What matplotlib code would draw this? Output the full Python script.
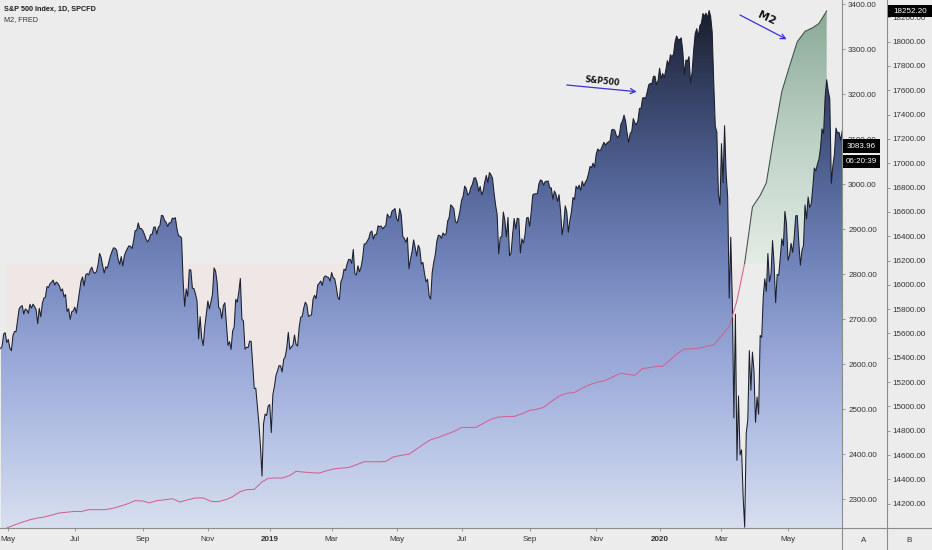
import numpy as np
import pandas as pd
import matplotlib
matplotlib.use("Agg")
import matplotlib.pyplot as plt
from matplotlib.colors import LinearSegmentedColormap
from matplotlib.path import Path
from matplotlib.patches import Rectangle
from matplotlib.lines import Line2D

plt.rcParams["font.family"] = ["Liberation Sans", "DejaVu Sans"]

# S&P 500 daily closes, first bar 2018-04-24
spx_2018 = [
    2634.6, 2639.4, 2666.9, 2669.9, 2648.1,
    2654.8, 2635.7, 2629.7, 2663.4, 2672.6, 2671.9, 2697.8, 2723.1, 2727.7, 2730.1, 2711.5,
    2722.5, 2720.1, 2712.9, 2733.0, 2724.4, 2733.3, 2727.8, 2721.3, 2689.9, 2724.0, 2705.3,
    2734.6, 2746.9, 2748.8, 2772.4, 2770.4, 2779.0, 2782.0, 2786.9, 2775.6, 2782.5, 2779.7,
    2773.9, 2762.6, 2767.3, 2749.8, 2754.9, 2717.1, 2723.1, 2699.6, 2716.3, 2718.4,
    2726.7, 2713.2, 2736.6, 2759.8, 2784.2, 2793.8, 2774.0, 2798.3, 2801.3, 2798.4, 2809.6,
    2815.6, 2804.5, 2801.8, 2806.0, 2820.4, 2846.1, 2837.4, 2818.8, 2802.6, 2816.3,
    2813.4, 2827.2, 2840.4, 2850.4, 2858.5, 2857.7, 2853.6, 2833.3, 2821.9, 2839.1, 2818.4,
    2840.7, 2850.1, 2857.1, 2863.0, 2861.8, 2857.0, 2874.7, 2896.7, 2897.5, 2914.0, 2901.1, 2901.5,
    2896.7, 2888.6, 2878.1, 2871.7, 2877.1, 2887.9, 2888.9, 2904.2, 2905.0, 2888.8, 2904.3,
    2908.0, 2930.8, 2929.7, 2919.4, 2915.6, 2906.0, 2914.0, 2914.0,
    2924.6, 2923.4, 2925.5, 2901.6, 2885.6, 2884.4, 2880.3, 2785.7, 2728.4, 2767.1, 2750.8,
    2809.9, 2809.2, 2768.8, 2767.8, 2755.9, 2740.7, 2656.1, 2705.6, 2658.7, 2641.3, 2682.6, 2711.7,
    2740.4, 2723.1, 2738.3, 2755.5, 2813.9, 2806.8, 2781.0, 2726.2, 2722.2, 2701.6, 2730.2,
    2736.3, 2690.7, 2641.9, 2649.9, 2632.6, 2673.5, 2682.2, 2743.8, 2737.8, 2760.2,
    2790.4, 2700.1, 2696.0, 2633.1, 2637.7, 2636.8, 2651.1, 2650.5, 2600.0, 2545.9, 2546.2,
    2507.0, 2467.4, 2416.6, 2351.1, 2467.7, 2488.8, 2485.7, 2506.9,
]
spx_2019 = [
    2510.0, 2447.9, 2531.9, 2549.7, 2574.4, 2585.0, 2596.6, 2596.3, 2582.6, 2610.3, 2616.1,
    2636.0, 2670.7, 2632.9, 2638.7, 2642.3, 2664.8, 2643.9, 2640.0, 2681.1, 2704.1,
    2706.5, 2724.9, 2737.7, 2731.6, 2706.1, 2707.9, 2709.8, 2744.7, 2753.0, 2745.7, 2775.6,
    2779.8, 2784.7, 2774.9, 2792.7, 2796.1, 2793.9, 2792.4, 2784.5,
    2803.7, 2792.8, 2789.7, 2771.5, 2748.9, 2743.1, 2783.3, 2791.5, 2810.9, 2808.5, 2822.5,
    2832.9, 2832.6, 2824.2, 2854.9, 2800.7, 2798.4, 2818.5, 2805.4, 2815.4, 2834.4,
    2867.2, 2867.2, 2873.4, 2879.4, 2892.7, 2895.8, 2878.2, 2888.2, 2888.3, 2907.4, 2905.6,
    2907.1, 2900.5, 2905.0, 2908.0, 2933.7, 2927.3, 2926.2, 2939.9, 2943.0, 2945.8,
    2923.7, 2917.5, 2945.6, 2932.5, 2884.1, 2879.4, 2870.7, 2881.4, 2811.9, 2834.4, 2851.0,
    2876.3, 2859.5, 2840.2, 2864.4, 2856.3, 2822.2, 2826.1, 2802.4, 2783.0, 2788.9, 2752.1,
    2744.5, 2803.3, 2826.2, 2843.5, 2873.3, 2886.7, 2885.7, 2879.8, 2891.6, 2887.0,
    2889.7, 2917.8, 2926.5, 2954.2, 2950.5, 2945.4, 2917.4, 2913.8, 2924.9, 2941.8,
    2964.3, 2973.0, 2995.8, 2990.4, 2976.0, 2979.6, 2993.1, 2999.9, 3013.8, 3014.3, 3004.0,
    2984.4, 2995.1, 2976.6, 2985.0, 3005.5, 3019.6, 3003.7, 3025.9, 3021.0, 3013.2, 2980.4,
    2953.6, 2932.1, 2844.7, 2881.8, 2884.0, 2938.1, 2918.7, 2883.1, 2926.3, 2840.6, 2847.6,
    2888.7, 2923.7, 2900.5, 2924.4, 2923.0, 2847.1, 2878.4, 2869.2, 2887.9, 2924.6, 2926.5,
    2906.3, 2937.8, 2976.0, 2978.7, 2978.4, 2979.4, 3000.9, 3009.6, 3007.4, 2998.0,
    3005.7, 3006.7, 3006.8, 2992.1, 2991.8, 2966.6, 2984.9, 2977.6, 2961.8, 2976.7,
    2940.3, 2887.6, 2910.6, 2952.0, 2938.8, 2893.1, 2919.4, 2938.1, 2970.3, 2966.2, 2995.7,
    2989.7, 2998.0, 2986.2, 3006.7, 2996.0, 3004.5, 3010.3, 3022.6, 3039.4, 3036.9, 3046.8, 3037.6,
    3066.9, 3078.3, 3074.6, 3076.8, 3085.2, 3093.1, 3087.0, 3091.8, 3094.0, 3096.6,
    3120.5, 3122.0, 3120.2, 3108.5, 3103.5, 3110.3, 3133.6, 3140.5, 3153.6, 3141.0,
    3113.9, 3093.2, 3112.8, 3117.4, 3145.9, 3136.0, 3132.5, 3141.6, 3168.6, 3168.8, 3191.5,
    3192.5, 3191.1, 3205.4, 3221.2, 3224.0, 3223.4, 3239.9, 3240.0, 3221.3, 3230.8,
]
spx_2020 = [
    3257.9, 3234.9, 3246.3, 3237.2, 3253.1, 3274.7, 3265.4, 3288.1, 3283.2, 3289.3, 3316.8,
    3329.6, 3321.8, 3321.4, 3325.5, 3295.5, 3243.6, 3276.2, 3273.4, 3283.7, 3225.5,
    3248.9, 3297.6, 3334.7, 3345.8, 3327.7, 3352.1, 3357.8, 3379.5, 3373.9, 3380.2,
    3370.3, 3386.2, 3373.2, 3337.8, 3225.9, 3128.2, 3116.4, 2978.8, 2954.2,
    3090.2, 3003.4, 3130.1, 3023.9, 2972.4, 2746.6, 2882.2, 2741.4, 2480.6, 2711.0, 2386.1,
    2529.2, 2398.1, 2409.4, 2304.9, 2237.4, 2447.3, 2475.6, 2630.1, 2541.5, 2626.7, 2584.6,
    2470.5, 2526.9, 2488.7, 2663.7, 2659.4, 2750.0, 2789.8, 2761.6, 2846.1, 2783.4, 2799.6,
    2874.6, 2823.2, 2736.6, 2799.3, 2797.8, 2836.7, 2878.5, 2863.4, 2939.5, 2912.4,
    2830.7, 2842.7, 2868.4, 2848.4, 2881.2, 2929.8, 2930.3, 2870.1, 2820.0, 2852.5,
    2863.7, 2953.9, 2922.9, 2971.6, 2948.5, 2955.5, 2991.8, 3036.1, 3029.7, 3044.3,
    3055.7, 3080.8, 3122.9, 3112.4, 3193.9, 3232.4, 3207.2, 3190.1, 3002.1, 3041.3,
    3066.6, 3124.7, 3113.5, 3115.3, 3097.7, 3117.9, 3131.3, 3050.3, 3083.96,
]

# M2 weekly (FRED), first value week of 2018-04-30
m2_2018 = [
    14000, 14025, 14048, 14068, 14082, 14090, 14106, 14124, 14130, 14137, 14135, 14151,
    14151, 14151, 14160, 14178, 14198, 14225, 14222, 14206, 14225, 14232, 14241, 14214,
    14232, 14247, 14247, 14219, 14217, 14235, 14258, 14300, 14315, 14318, 14380, 14408,
]
m2_2019 = [
    14411, 14411, 14432, 14466, 14460, 14455, 14452, 14468, 14485, 14492, 14498, 14520,
    14545, 14545, 14545, 14548, 14585, 14598, 14607, 14650, 14695, 14726, 14745, 14770,
    14794, 14827, 14827, 14827, 14860, 14895, 14913, 14916, 14918, 14940, 14967, 14975,
    14992, 15040, 15085, 15108, 15115, 15150, 15180, 15200, 15214, 15245, 15274, 15264,
    15255, 15312, 15320, 15329,
]
m2_2020 = [
    15330, 15385, 15440, 15472, 15474, 15480, 15495, 15507, 15580, 15657, 15870, 16180,
    16640, 16735, 16840, 17230, 17590, 17800, 18000, 18085, 18115, 18150, 18252.2,
]

market_holidays = [
    "2018-05-28", "2018-07-04", "2018-09-03", "2018-11-22", "2018-12-05", "2018-12-25",
    "2019-01-01", "2019-01-21", "2019-02-18", "2019-04-19", "2019-05-27", "2019-07-04",
    "2019-09-02", "2019-11-28", "2019-12-25", "2020-01-01", "2020-01-20", "2020-02-17",
    "2020-04-10", "2020-05-25",
]

tick_months = ["2018-05-01", "2018-07-01", "2018-09-01", "2018-11-01", "2019-01-01",
               "2019-03-01", "2019-05-01", "2019-07-01", "2019-09-01", "2019-11-01",
               "2020-01-01", "2020-03-01", "2020-05-01"]
tick_labels = ["May", "Jul", "Sep", "Nov", "2019", "Mar", "May", "Jul", "Sep", "Nov",
               "2020", "Mar", "May"]

spx_ticks = np.arange(2300, 3401, 100)
m2_ticks = np.arange(14200, 18201, 200)

spx = np.array(spx_2018 + spx_2019 + spx_2020)
m2 = np.array(m2_2018 + m2_2019 + m2_2020, dtype=float)

# bar index axis like TradingView (no gaps for weekends/holidays)
days = pd.bdate_range("2018-04-24", periods=len(spx), freq="C", holidays=market_holidays)
x_spx = np.arange(len(spx))
m2_dates = pd.date_range("2018-04-30", periods=len(m2), freq="W-MON")
x_m2 = days.searchsorted(m2_dates)
tick_x = days.searchsorted(pd.to_datetime(tick_months))

W, H = 932, 550
BG = "#ececec"
GRID = "#8c8c8c"
TXT = "#333333"
xlim = (-0.36, 543.9)
spx_lim = (2235.6, 3409.6)
m2_lim = (14000, 18342.8)
m2_base = (m2_lim[0] + m2_lim[1]) / 2

fig = plt.figure(figsize=(W / 100, H / 100), dpi=100, facecolor=BG)
ax = fig.add_axes([0, 22 / H, 842 / W, 528 / H])
ax_fill = ax.twinx()
ax_line = ax.twinx()
ax_fill.set_zorder(0)
ax.set_zorder(1)
ax_line.set_zorder(2)
ax_fill.patch.set_visible(True)
ax_fill.patch.set_facecolor(BG)
ax.patch.set_visible(False)
ax_line.patch.set_visible(False)

# M2 baseline fills
green_cmap = LinearSegmentedColormap.from_list("g", ["#e4ece6", "#bcd1c4", "#8aa997"])
gfill = ax_fill.fill_between(x_m2, m2_base, m2, where=m2 >= m2_base, interpolate=True,
                             facecolor="none", edgecolor="none")
gim = ax_fill.imshow(np.linspace(0, 1, 256).reshape(-1, 1), cmap=green_cmap, origin="lower",
                     aspect="auto", extent=[x_m2[0], x_m2[-1], m2_base, m2.max()], zorder=1)
gim.set_clip_path(Path.make_compound_path(*gfill.get_paths()), ax_fill.transData)
ax_fill.fill_between(x_m2, m2, m2_base, where=m2 <= m2_base, interpolate=True,
                     facecolor="#efe6e6", edgecolor="none", zorder=1)

# S&P area with gradient
spx_cmap = LinearSegmentedColormap.from_list(
    "s", [(0.0, "#d8dfef"), (0.15, "#bac6e7"), (0.32, "#9aa9d8"), (0.5, "#7487bd"),
          (0.66, "#55679a"), (0.85, "#343f62"), (1.0, "#1a1e2b")])
sfill = ax.fill_between(x_spx, spx, spx_lim[0], facecolor="none", edgecolor="none")
sim = ax.imshow(np.linspace(0, 1, 256).reshape(-1, 1), cmap=spx_cmap, origin="lower",
                aspect="auto", extent=[0, len(spx) - 1, spx_lim[0], spx.max()], zorder=1)
sim.set_clip_path(sfill.get_paths()[0], ax.transData)
ax.plot(x_spx, spx, color="#1b1f2b", lw=0.75, zorder=2)

# M2 line: pink below baseline, dark green above
pink, = ax_line.plot(x_m2, m2, color="#cf6392", lw=0.75)
dark, = ax_line.plot(x_m2, m2, color="#3f4f46", lw=0.75)
lower = Rectangle((xlim[0], m2_lim[0]), xlim[1] - xlim[0], m2_base - m2_lim[0],
                  transform=ax_line.transData)
upper = Rectangle((xlim[0], m2_base), xlim[1] - xlim[0], m2_lim[1] - m2_base,
                  transform=ax_line.transData)
pink.set_clip_path(lower)
dark.set_clip_path(upper)

for a in (ax, ax_fill, ax_line):
    a.set_xlim(*xlim)
    for s in a.spines.values():
        s.set_visible(False)
ax.set_ylim(*spx_lim)
ax_fill.set_ylim(*m2_lim)
ax_line.set_ylim(*m2_lim)
ax_fill.yaxis.set_visible(False)

# S&P price scale
ax.yaxis.tick_right()
ax.set_yticks(spx_ticks)
ax.set_yticklabels([f"{v:.2f}" for v in spx_ticks])
ax.tick_params(axis="y", direction="out", length=2.2, width=0.6, color=GRID,
               labelsize=5.8, labelcolor=TXT, pad=2.2)
ax.set_xticks(tick_x)
ax.set_xticklabels(tick_labels)
ax.tick_params(axis="x", direction="out", length=2.2, width=0.6, color=GRID,
               labelsize=5.8, labelcolor=TXT, pad=3.4)
for t in ax.get_xticklabels():
    if t.get_text().isdigit():
        t.set_fontweight("bold")

# M2 price scale
ax_line.spines["right"].set_position(("outward", 45 * 0.72))
ax_line.set_yticks(m2_ticks)
ax_line.set_yticklabels([f"{v:.2f}" for v in m2_ticks])
ax_line.tick_params(axis="y", direction="out", length=2.2, width=0.6, color=GRID,
                    labelsize=5.8, labelcolor=TXT, pad=2.0)

# separators
fig.add_artist(Line2D([842 / W, 842 / W], [0, 1], color=GRID, lw=0.8))
fig.add_artist(Line2D([887 / W, 887 / W], [0, 1], color=GRID, lw=0.8))
fig.add_artist(Line2D([0, 1], [22 / H, 22 / H], color=GRID, lw=0.8))
fig.text(864 / W, 1 - 540 / H, "A", fontsize=5.8, color=TXT, ha="center", va="center")
fig.text(909 / W, 1 - 540 / H, "B", fontsize=5.8, color=TXT, ha="center", va="center")

# legend titles
fig.text(4 / W, 1 - 9.7 / H, "S&P 500 Index, 1D, SPCFD", fontsize=5.2, fontweight="bold",
         color="#1e1e1e", va="center")
fig.text(4 / W, 1 - 19.7 / H, "M2, FRED", fontsize=5.2, color="#333333", va="center")


def label_box(x0, x1, yc, h, text):
    fig.add_artist(Rectangle((x0 / W, (yc - h / 2) / H), (x1 - x0) / W, h / H,
                             transform=fig.transFigure, facecolor="black",
                             edgecolor="none", zorder=10))
    fig.text((x0 + x1) / 2 / W, yc / H, text, color="white", fontsize=5.8,
             ha="center", va="center", zorder=11)


y_spx = ax.transData.transform((0, spx[-1]))[1]
label_box(842.5, 879.5, y_spx, 14, f"{spx[-1]:.2f}")
label_box(842.5, 879.5, y_spx - 15, 13.5, "06:20:39")
y_m2 = ax_line.transData.transform((0, m2[-1]))[1]
label_box(887.5, 932, y_m2, 12, f"{m2[-1]:.2f}")

# hand-drawn notes
ARROW = "#3b30d9"
ax_line.annotate("", xy=(636.7 / W, 1 - 91.7 / H), xytext=(566.7 / W, 1 - 85 / H),
                 xycoords="figure fraction", textcoords="figure fraction",
                 arrowprops=dict(arrowstyle="->", color=ARROW, lw=0.9,
                                 shrinkA=0, shrinkB=0, mutation_scale=9))
ax_line.annotate("", xy=(786.7 / W, 1 - 39.3 / H), xytext=(740 / W, 1 - 15 / H),
                 xycoords="figure fraction", textcoords="figure fraction",
                 arrowprops=dict(arrowstyle="->", color=ARROW, lw=0.9,
                                 shrinkA=0, shrinkB=0, mutation_scale=9))
fig.text(602 / W, 1 - 81 / H, "S&P500", fontsize=5.8, fontweight="bold", color="#151515",
         rotation=-6, ha="center", va="center", family=["DejaVu Sans"])
fig.text(766.7 / W, 1 - 18.3 / H, "M2", fontsize=8, fontweight="bold", color="#151515",
         rotation=-25, ha="center", va="center", family=["DejaVu Sans"])

fig.savefig("out.png", dpi=100, facecolor=BG)
